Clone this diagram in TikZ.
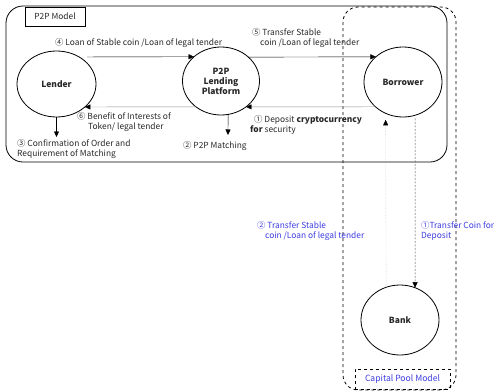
\documentclass[tikz,border=0pt]{standalone}
\usepackage{fontspec}
\setmainfont{Noto Sans CJK KR}
\usetikzlibrary{shapes.geometric,arrows.meta}
\definecolor{txt}{RGB}{40,40,40}
\definecolor{lbl}{RGB}{60,60,225}
\definecolor{gline}{RGB}{140,140,140}
\tikzset{
  circ/.style={ellipse,draw,thick,inner sep=0pt,outer sep=0pt,font=\fontsize{8.5}{10}\selectfont\bfseries,align=center,text=txt},
  lab/.style={anchor=west,inner sep=0pt,font=\fontsize{8.4}{10.5}\selectfont,text=txt,align=left},
  blab/.style={lab,text=lbl},
  arr/.style={-{Triangle[length=5.5pt,width=5pt,color=black]},thin},
  garr/.style={arr,draw=gline},
}
\begin{document}
\begin{tikzpicture}[x=1pt,y=-1pt]
\useasboundingbox (0,0) rectangle (495,391);
% frames
\draw[thick,rounded corners=17pt] (6,6) rectangle (447,162);
\draw[thick,dashed,rounded corners=15pt] (343,7) rectangle (456,390);
\node[draw,thin,minimum width=60pt,minimum height=19pt,inner sep=0pt,font=\fontsize{8.4}{10}\selectfont,text=txt] (p2pm) at (55,16.5) {P2P Model};
\node[draw,thin,dashed,minimum width=95pt,minimum height=20pt,inner sep=0pt,font=\fontsize{8.6}{10}\selectfont,text=lbl] (cpm) at (402.5,379) {Capital Pool Model};
% nodes
\node[circ,minimum width=79pt,minimum height=66pt] (lender) at (56.5,84) {Lender};
\node[circ,minimum width=77pt,minimum height=68pt] (platform) at (221,81) {P2P\\Lending\\Platform};
\node[circ,minimum width=78pt,minimum height=70pt] (borrower) at (403,82) {Borrower};
\node[circ,minimum width=78pt,minimum height=70pt] (bank) at (400,320) {Bank};
\coordinate (ld) at (56.5,137);
\coordinate (pd) at (228,135);
% connectors
\draw[arr,shorten <=8pt] (lender.50) -- (platform.138.7);
\draw[arr] (platform.41.3) -- (borrower.137.5);
\draw[garr] (borrower.222.5) -- (platform.-46.4);
\draw[garr] (platform.226.4) -- (lender.-39);
\draw[arr] (lender.south) -- (ld);
\draw[arr] (platform.-78.2) -- (pd);
\draw[arr,draw=gray!60,densely dotted,shorten >=6.5pt] (bank.113.2) -- (borrower.241.6);
\draw[arr,draw=black!70,dash pattern=on 2pt off 1.5pt,shorten <=3pt] (borrower.-70.2) -- (bank.65.1);
% labels
\node[lab] (t4) at (55,43) {④ Loan of Stable coin /Loan of legal tender};
\node[lab] (t5) at (252,38) {⑤ Transfer Stable\\\hspace*{8pt}coin /Loan of legal tender};
\node[lab] (t6) at (77,122) {⑥ Benefit of Interests of\\\hspace*{11pt}Token/ legal tender};
\node[lab] (t1) at (250,125) {\hspace*{4pt}① Deposit \textbf{cryptocurrency}\\\textbf{for} security};
\node[lab] (t3) at (17,149) {③ Confirmation of Order and\\Requirement of Matching};
\node[lab] (t2) at (183,146) {② P2P Matching};
\node[blab] (b2) at (257,231) {② Transfer Stable\\\hspace*{8pt}coin /Loan of legal tender};
\node[blab] (b1) at (421,231) {①Transfer Coin for\\Deposit};
\end{tikzpicture}
\end{document}
